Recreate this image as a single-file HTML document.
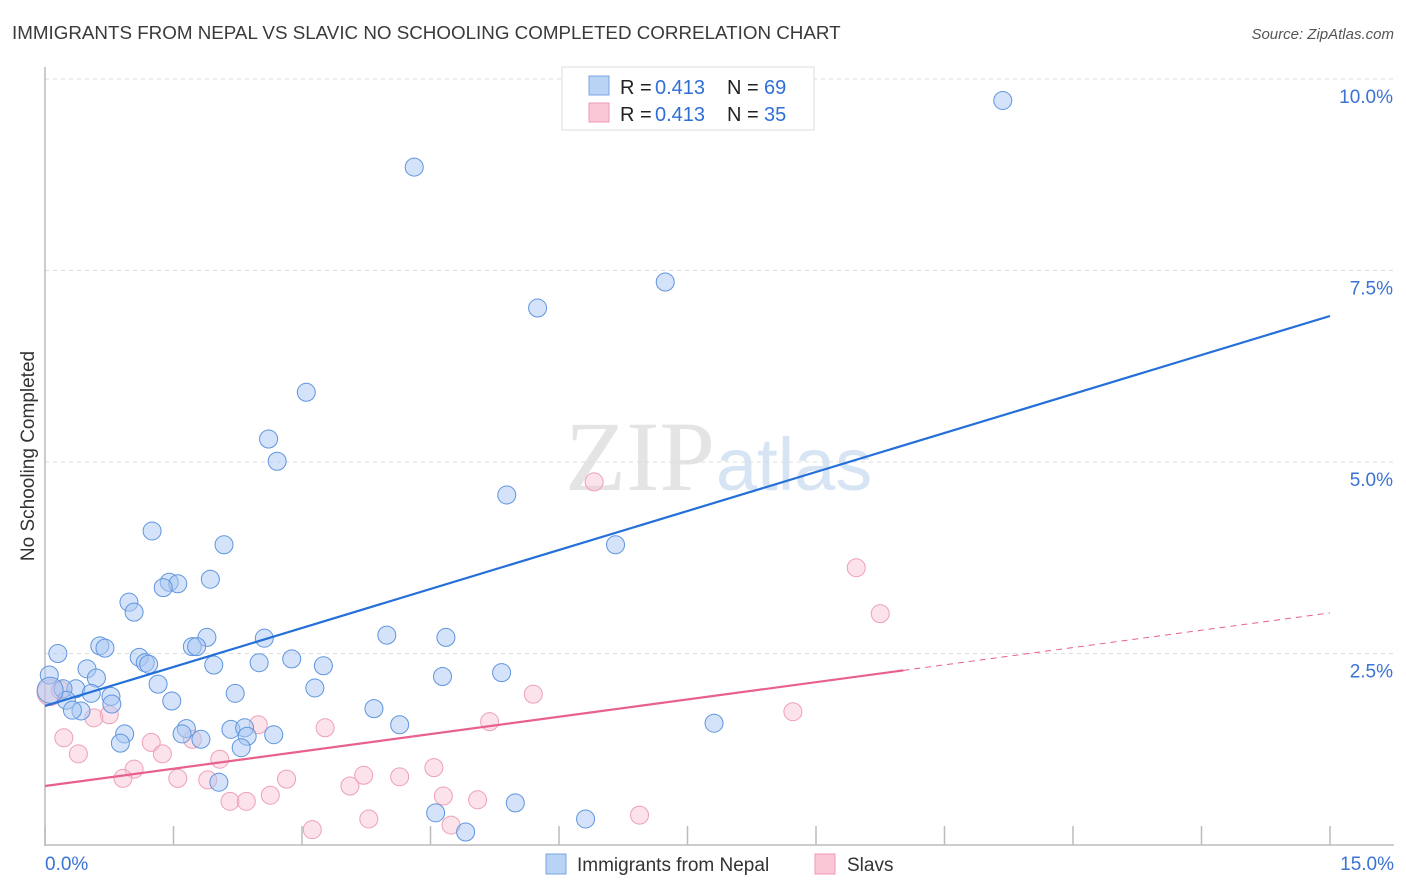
<!DOCTYPE html>
<html><head><meta charset="utf-8">
<style>
body{margin:0;background:#fff;font-family:"Liberation Sans",sans-serif;}
svg{display:block}
</style></head>
<body>
<svg id="chart" width="1406" height="892" xmlns="http://www.w3.org/2000/svg">
<text x="12" y="39" font-size="18.8" fill="#3a3a3a" font-family="Liberation Sans, sans-serif">IMMIGRANTS FROM NEPAL VS SLAVIC NO SCHOOLING COMPLETED CORRELATION CHART</text>
<text x="1394" y="39" font-size="15" fill="#555" font-style="italic" text-anchor="end">Source: ZipAtlas.com</text>
<text transform="translate(34,456) rotate(-90)" font-size="19" fill="#333" text-anchor="middle">No Schooling Completed</text>
<text x="715" y="490" font-size="100" fill="#e4e4e4" text-anchor="end" font-family="Liberation Serif, serif">ZIP</text>
<text x="716" y="490" font-size="74" fill="#d6e4f3">atlas</text>
<g id="grid"></g>
<g id="marks"></g>
<g id="legend">
<rect x="562" y="67" width="252" height="63" fill="#fff" stroke="#ddd"/>
<rect x="589" y="76" width="20" height="19" fill="#b9d3f5" stroke="#7aa6e3"/>
<text y="94" font-size="20" fill="#222"><tspan x="620">R = </tspan><tspan x="655" fill="#2f6fd6">0.413</tspan><tspan x="727">N = </tspan><tspan x="764" fill="#2f6fd6">69</tspan></text>
<rect x="589" y="103" width="20" height="19" fill="#f9c7d6" stroke="#ee9ab3"/>
<text y="121" font-size="20" fill="#222"><tspan x="620">R = </tspan><tspan x="655" fill="#2f6fd6">0.413</tspan><tspan x="727">N = </tspan><tspan x="764" fill="#2f6fd6">35</tspan></text>
</g>
<rect x="546" y="854" width="20" height="20" fill="#b9d3f5" stroke="#7aa6e3"/>
<text x="577" y="871" font-size="19" fill="#333">Immigrants from Nepal</text>
<rect x="815" y="854" width="20" height="20" fill="#f9c7d6" stroke="#ee9ab3"/>
<text x="847" y="871" font-size="19" fill="#333">Slavs</text>
</svg>
<script>
const xTicks=[0,1.5,3,4.5,6,7.5,9,10.5,12,13.5,15];
const yTicks=[2.5,5,7.5,10];
const yTickLabels=["2.5%","5.0%","7.5%","10.0%"];
const xEndLabels=["0.0%","15.0%"];
const nepalX=[11.18,4.31,7.24,5.75,3.05,2.61,2.71,5.39,1.25,6.66,2.09,1.93,1.45,1.55,1.38,0.98,1.04,0.64,0.70,1.89,2.56,1.72,1.77,3.99,4.68,0.15,1.10,1.17,1.21,1.97,2.50,2.88,3.25,4.64,5.33,0.05,0.49,0.60,1.32,0.36,0.21,0.54,0.77,2.22,3.15,0.25,0.78,1.48,0.42,0.32,3.84,4.14,7.81,1.65,1.60,2.17,2.33,1.82,2.67,2.36,0.93,0.88,2.29,2.03,5.49,4.56,6.31,4.91,0.06];
const nepalY=[9.72,8.85,7.35,7.01,5.91,5.30,5.01,4.57,4.10,3.92,3.92,3.47,3.43,3.41,3.36,3.17,3.04,2.60,2.57,2.71,2.70,2.59,2.59,2.74,2.71,2.50,2.45,2.38,2.36,2.35,2.38,2.43,2.34,2.20,2.25,2.22,2.30,2.18,2.10,2.04,2.04,1.98,1.94,1.98,2.05,1.89,1.84,1.88,1.75,1.76,1.78,1.57,1.59,1.52,1.45,1.51,1.53,1.38,1.44,1.42,1.45,1.33,1.27,0.82,0.55,0.42,0.34,0.17,2.02];
const slavX=[6.41,9.47,9.75,5.70,8.73,5.19,3.27,2.49,0.75,0.57,0.22,0.39,1.24,1.37,1.72,2.04,1.04,0.91,1.55,1.90,2.82,2.63,3.56,3.72,4.14,4.54,4.65,5.05,2.16,2.35,3.78,3.12,4.74,6.94,0.06,0.18];
const slavY=[4.74,3.62,3.02,1.97,1.74,1.61,1.53,1.57,1.70,1.66,1.40,1.19,1.34,1.19,1.38,1.12,0.99,0.87,0.87,0.85,0.86,0.65,0.77,0.91,0.89,1.01,0.64,0.59,0.57,0.57,0.34,0.20,0.26,0.39,1.99,2.02];
const nepalTrend=[1.815,6.906];
const slavTrend=[0.770,3.03];
const slavSolidEnd=10.02;

const NS="http://www.w3.org/2000/svg";
const X=v=>45+v/15*1285;
const Y=v=>845-v/10*766;
function mk(tag,attrs,parent){const e=document.createElementNS(NS,tag);for(const k in attrs)e.setAttribute(k,attrs[k]);parent.appendChild(e);return e;}
const grid=document.getElementById('grid'),marks=document.getElementById('marks');

yTicks.forEach((t,i)=>{
  const l=mk('line',{x1:45,x2:1394,y1:Y(t),y2:Y(t),stroke:'#ddd','stroke-dasharray':'4,4'},grid);
  
  
  const tx=mk('text',{x:1393,y:Y(t)+24,'font-size':19,fill:'#3a73d4','text-anchor':'end'},grid);
  tx.textContent=yTickLabels[i];
  
  
});
const yAxis=mk('line',{x1:45,x2:45,y1:67,y2:846,stroke:'#bbb','stroke-width':1.5},grid);


const xAxis=mk('line',{x1:45,x2:1394,y1:845,y2:845,stroke:'#bbb','stroke-width':1.5},grid);


xTicks.forEach(t=>{
  const l=mk('line',{x1:X(t),x2:X(t),y1:826,y2:845,stroke:'#bbb','stroke-width':1.5},grid);
  
  
});
[[0,'start',45],[15,'end',1394]].forEach((d,i)=>{
  const tx=mk('text',{x:d[2],y:870,'font-size':19,fill:'#3a73d4','text-anchor':d[1]},grid);
  tx.textContent=xEndLabels[i];
  
  
});

slavX.forEach((v,i)=>{
  const c=mk('circle',{cx:X(v),cy:Y(slavY[i]),r:i==34?13:9,fill:'rgba(249,190,208,0.45)',stroke:'#eea0b8','stroke-width':1},marks);
  
  
});
nepalX.forEach((v,i)=>{
  const c=mk('circle',{cx:X(v),cy:Y(nepalY[i]),r:i==68?13:9,fill:'rgba(170,200,243,0.5)',stroke:'#5f95de','stroke-width':1},marks);
  
  
});
const bt=mk('line',{x1:X(0),y1:Y(nepalTrend[0]),x2:X(15),y2:Y(nepalTrend[1]),stroke:'#2470d8','stroke-width':2.2},marks);


const sy=x=>slavTrend[0]+(slavTrend[1]-slavTrend[0])*x/15;
const pt=mk('line',{x1:X(0),y1:Y(sy(0)),x2:X(slavSolidEnd),y2:Y(sy(slavSolidEnd)),stroke:'#e8608c','stroke-width':2.2},marks);


const pd=mk('line',{x1:X(slavSolidEnd),y1:Y(sy(slavSolidEnd)),x2:X(15),y2:Y(sy(15)),stroke:'#e8608c','stroke-width':1,'stroke-dasharray':'6,5'},marks);


</script>
</body></html>
